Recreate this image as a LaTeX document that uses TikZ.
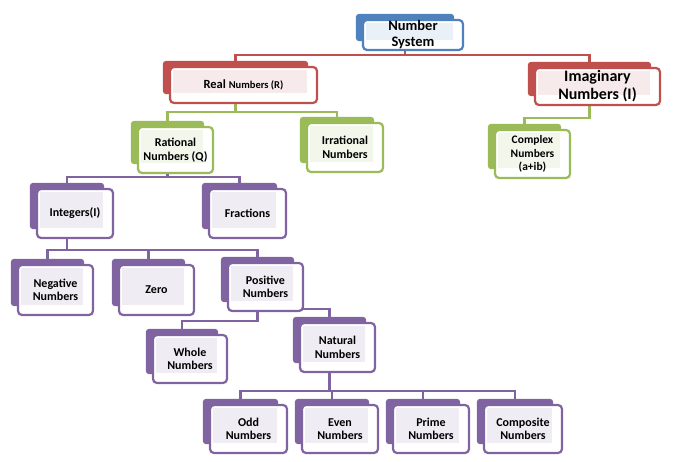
\documentclass[tikz,border=0pt]{standalone}
\usepackage{fontspec}
\setmainfont{Carlito}
\usetikzlibrary{calc}
\definecolor{nsblue}{HTML}{4F81BD}
\definecolor{nsred}{HTML}{C0504D}
\definecolor{nsgreen}{HTML}{9BBB59}
\definecolor{nspurple}{HTML}{8064A2}
\pgfdeclarelayer{links}
\pgfdeclarelayer{backs}
\pgfsetlayers{links,backs,main}
\tikzset{
  numbox/.style={
    rectangle, draw=#1, fill=white, line width=2.2pt, rounded corners=4pt,
    minimum width=75pt, minimum height=48pt, inner sep=0pt, align=center,
    font=\bfseries\fontsize{12}{13.5}\selectfont,
    path picture={\fill[#1!12, sharp corners]
      ([shift={(3pt,-3pt)}]path picture bounding box.north west) rectangle
      ([shift={(-10pt,10pt)}]path picture bounding box.south east);}
  },
  backbox/.style={fill=#1, rounded corners=3pt},
  link/.style={draw=#1, line width=2.4pt}
}

\begin{document}
\begin{tikzpicture}[x=1pt, y=-1pt]
    \useasboundingbox (0,0) rectangle (678,462);
    % top levels
    \node[numbox=nsblue, minimum width=100pt, minimum height=30pt,
      font=\bfseries\fontsize{14.5}{16}\selectfont] (ns) at (413,35) {Number\\System};
    \node[numbox=nsred, minimum width=147pt, minimum height=36pt] (real) at (243.5,85)
      {\fontsize{12.5}{13.5}\selectfont Real {\fontsize{10.5}{13.5}\selectfont Numbers (R)}};
    \node[numbox=nsred, minimum width=125pt, minimum height=37pt,
      font=\bfseries\fontsize{16}{18}\selectfont] (imag) at (597.5,86.5) {Imaginary\\Numbers (I)};
    \node[numbox=nsgreen, minimum height=46pt] (rat) at (175.5,150) {Rational\\Numbers (Q)};
    \node[numbox=nsgreen, minimum width=76pt, minimum height=49pt] (irr) at (345,147.5) {Irrational\\Numbers};
    \node[numbox=nsgreen, font=\bfseries\fontsize{11.5}{13.5}\selectfont] (cplx) at (532.5,154) {Complex\\Numbers\\(a+ib)};
    % integers and below
    \node[numbox=nspurple, minimum width=76pt, minimum height=49pt] (int) at (75,213.5) {Integers(I)};
    \node[numbox=nspurple, minimum width=77pt, minimum height=49pt] (frac) at (247.5,213.5) {Fractions};
    \node[numbox=nspurple, minimum height=50pt] (neg) at (55.5,290) {Negative\\Numbers};
    \node[numbox=nspurple, minimum height=50pt] (zero) at (156.5,290) {Zero};
    \node[numbox=nspurple] (pos) at (265.5,287) {Positive\\Numbers};
    \node[numbox=nspurple, minimum width=74pt] (whole) at (190,359) {Whole\\Numbers};
    \node[numbox=nspurple, minimum height=49pt] (nat) at (337.5,347.5) {Natural\\Numbers};
    \node[numbox=nspurple, minimum width=77pt] (odd) at (248.5,429) {Odd\\Numbers};
    \node[numbox=nspurple, minimum width=76pt] (even) at (340,429) {Even\\Numbers};
    \node[numbox=nspurple, minimum width=76pt] (prime) at (431,429) {Prime\\Numbers};
    \node[numbox=nspurple, minimum width=78pt] (comp) at (523,429) {Composite\\Numbers};

    % shadow boxes behind
    \begin{pgfonlayer}{backs}
    \foreach \n/\c in {ns/nsblue, real/nsred, imag/nsred, rat/nsgreen, irr/nsgreen,
        cplx/nsgreen, int/nspurple, frac/nspurple, neg/nspurple, zero/nspurple,
        pos/nspurple, whole/nspurple, nat/nspurple, odd/nspurple, even/nspurple,
        prime/nspurple, comp/nspurple}{
      \fill[backbox=\c] ([shift={(-6pt,5pt)}]\n.north west) rectangle ([shift={(-10pt,10pt)}]\n.south east);
      \coordinate (\n-top) at ([shift={(-8pt,5pt)}]\n.north);
      \coordinate (\n-bot) at ([xshift=-8pt]\n.south);
    }
    \end{pgfonlayer}

    % connectors
    \begin{pgfonlayer}{links}
    \draw[link=nsred] (ns-bot) -- ++(0,4) -| (real-top);
    \draw[link=nsred] (ns-bot) -- ++(0,4) -| (imag-top);
    \draw[link=nsgreen] (real-bot) -- ++(0,8) -| (rat-top);
    \draw[link=nsgreen] (real-bot) -- ++(0,8) -| (irr-top);
    \draw[link=nsgreen] (imag-bot) -- ++(0,12) -| (cplx-top);
    \draw[link=nspurple] (rat-bot) -- ++(0,3) -| (int-top);
    \draw[link=nspurple] (rat-bot) -- ++(0,3) -| (frac-top);
    \foreach \c in {neg, zero, pos}
      \draw[link=nspurple] (int-bot) -- ++(0,11) -| (\c-top);
    \draw[link=nspurple] (pos-bot) -- ++(0,9) -| (whole-top);
    \draw[link=nspurple] (pos-bot) -- ++(0,-3) -| (nat-top);
    \foreach \c in {odd, even, prime, comp}
      \draw[link=nspurple] (nat-bot) -- ++(0,18) -| (\c-top);
    \end{pgfonlayer}
\end{tikzpicture}
\end{document}
